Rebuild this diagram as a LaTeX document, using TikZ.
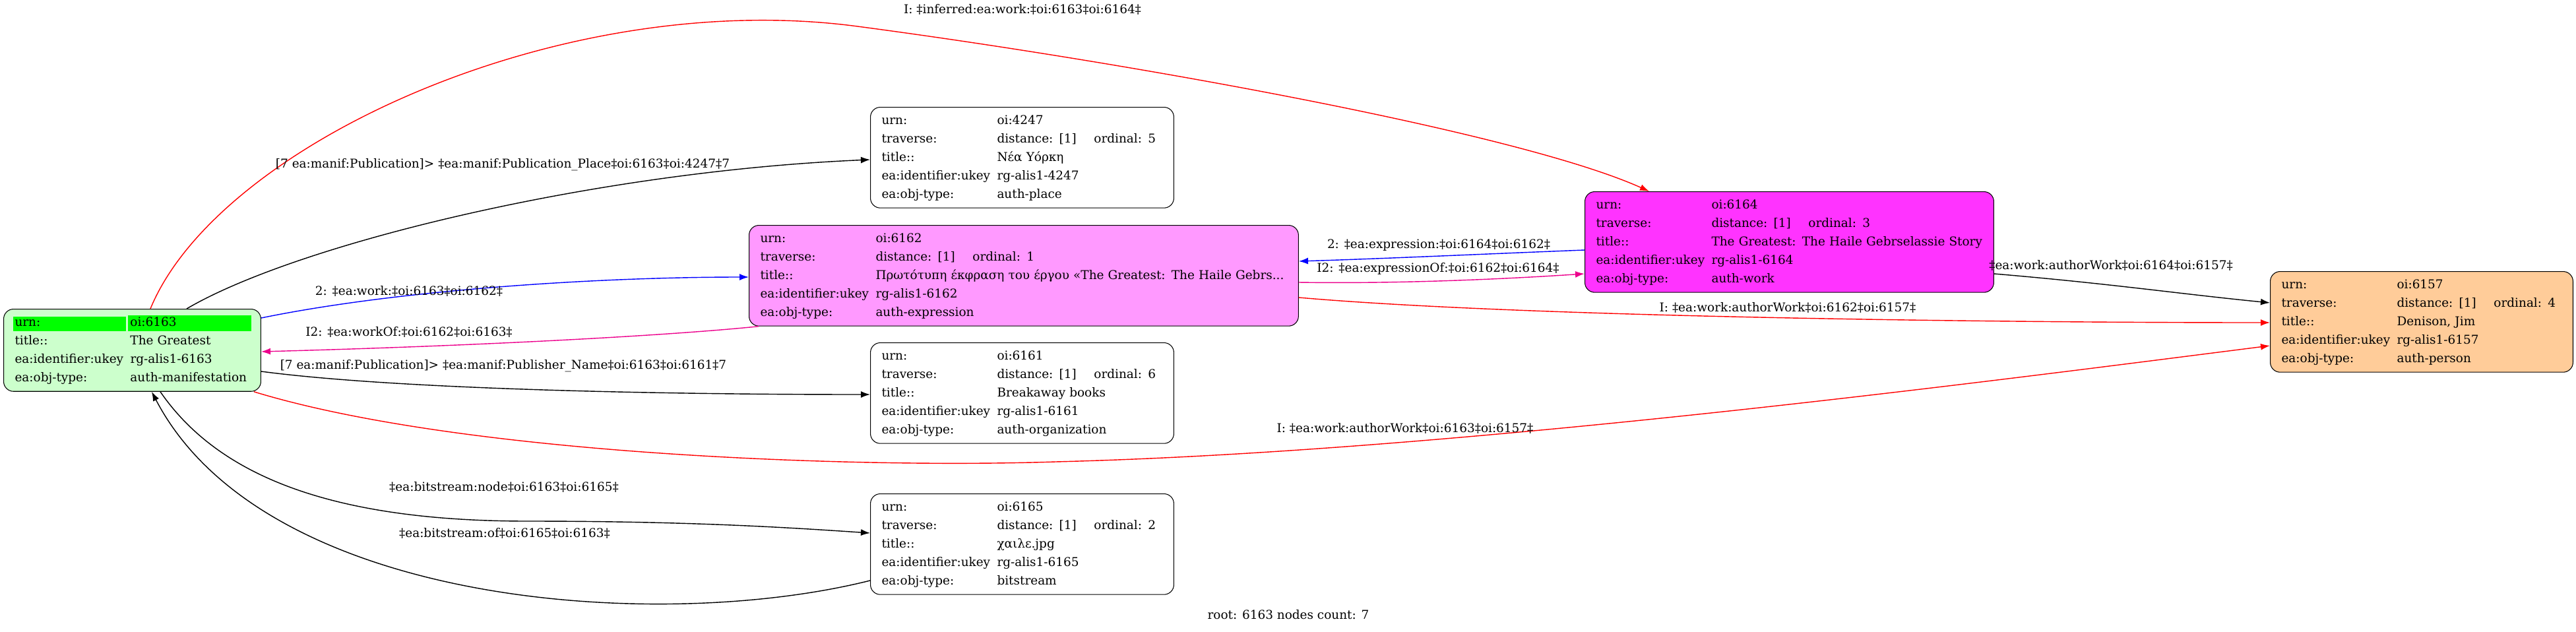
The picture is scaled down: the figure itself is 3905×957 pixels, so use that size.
\documentclass[tikz,border=0pt]{standalone}
\usepackage{fontspec}
\setmainfont{DejaVu Serif}
\usetikzlibrary{arrows.meta,calc}

\definecolor{mfgreen}{HTML}{CCFFCC}
\definecolor{hdrgreen}{HTML}{00FF00}
\definecolor{exppink}{HTML}{FF99FF}
\definecolor{workmag}{HTML}{FF33FF}
\definecolor{persorange}{HTML}{FFCC99}

\newcommand{\trav}[1]{\makebox[2.94cm][l]{distance: [1]}ordinal: #1}
\newcommand{\hdr}[2]{{\setlength{\fboxsep}{0.06cm}\hspace*{-0.06cm}\colorbox{hdrgreen}{\makebox[#1][l]{\rule[-0.08cm]{0pt}{0.32cm}#2}}}}

\begin{document}
\begin{tikzpicture}[x=0.02cm,y=-0.02cm,
    rec/.style={draw, line width=0.6pt, rounded corners=0.3cm, anchor=north west,
      inner xsep=0.34cm, inner ysep=0.13cm, text width=#1, align=left,
      font=\fontsize{10.5}{15.9}\selectfont},
    lbl/.style={anchor=base, inner sep=0pt, font=\fontsize{10.5}{12}\selectfont},
    link/.style={line width=0.8pt, -{Latex[length=0.28cm,width=0.2cm]}}]
    \useasboundingbox (0,0) rectangle (3905,957);

    \node[rec=7.12cm, fill=mfgreen] (n6163) at (5,468) {\begin{tabular}{@{}p{3.5cm}@{}l@{}}
        \hdr{3.32cm}{urn:} & \hdr{3.62cm}{oi:6163}\\
        title:: & The Greatest\\
        ea:identifier:ukey & rg-alis1-6163\\
        ea:obj-type: & auth-manifestation
      \end{tabular}};
    \node[rec=8.52cm] (n4247) at (1319,162) {\begin{tabular}{@{}p{3.5cm}@{}l@{}}
        urn: & oi:4247\\
        traverse: & \trav{5}\\
        title:: & Νέα Υόρκη\\
        ea:identifier:ukey & rg-alis1-4247\\
        ea:obj-type: & auth-place
      \end{tabular}};
    \node[rec=15.98cm, fill=exppink] (n6162) at (1135,341) {\begin{tabular}{@{}p{3.5cm}@{}l@{}}
        urn: & oi:6162\\
        traverse: & \trav{1}\\
        title:: & Πρωτότυπη έκφραση του έργου «The Greatest: The Haile Gebrs...\\
        ea:identifier:ukey & rg-alis1-6162\\
        ea:obj-type: & auth-expression
      \end{tabular}};
    \node[rec=11.72cm, fill=workmag] (n6164) at (2402,290) {\begin{tabular}{@{}p{3.5cm}@{}l@{}}
        urn: & oi:6164\\
        traverse: & \trav{3}\\
        title:: & The Greatest: The Haile Gebrselassie Story\\
        ea:identifier:ukey & rg-alis1-6164\\
        ea:obj-type: & auth-work
      \end{tabular}};
    \node[rec=8.5cm, fill=persorange] (n6157) at (3441,411) {\begin{tabular}{@{}p{3.5cm}@{}l@{}}
        urn: & oi:6157\\
        traverse: & \trav{4}\\
        title:: & Denison, Jim\\
        ea:identifier:ukey & rg-alis1-6157\\
        ea:obj-type: & auth-person
      \end{tabular}};
    \node[rec=8.52cm] (n6161) at (1319,519) {\begin{tabular}{@{}p{3.5cm}@{}l@{}}
        urn: & oi:6161\\
        traverse: & \trav{6}\\
        title:: & Breakaway books\\
        ea:identifier:ukey & rg-alis1-6161\\
        ea:obj-type: & auth-organization
      \end{tabular}};
    \node[rec=8.52cm] (n6165) at (1319,748) {\begin{tabular}{@{}p{3.5cm}@{}l@{}}
        urn: & oi:6165\\
        traverse: & \trav{2}\\
        title:: & χαιλε.jpg\\
        ea:identifier:ukey & rg-alis1-6165\\
        ea:obj-type: & bitstream
      \end{tabular}};

    \draw[link, red] ($(n6163.north west)+(223,0)$) .. controls (330,220) and (850,-20) .. (1300,40)
      .. controls (1700,93) and (2300,200) .. ($(n6164.north west)+(98,0)$);
    \draw[link] ($(n6163.north west)+(278,0)$) .. controls (450,370) and (900,260) .. ($(n4247.north west)+(0,80)$);
    \draw[link, blue] ($(n6163.north east)+(0,14)$) .. controls (600,440) and (900,420) .. ($(n6162.north west)+(0,79)$);
    \draw[link, magenta] ($(n6162.south west)+(15,0)$) .. controls (1000,510) and (700,525) .. ($(n6163.north east)+(0,65)$);
    \draw[link] ($(n6163.north east)+(0,95)$) .. controls (600,590) and (1000,598) .. ($(n6161.north west)+(0,79)$);
    \draw[link, red] ($(n6163.south east)+(-11,0)$) .. controls (700,690) and (1300,710) .. (1600,700)
      .. controls (2200,685) and (3000,580) .. ($(n6157.north west)+(0,113)$);
    \draw[link] ($(n6163.south west)+(238,0)$) .. controls (330,720) and (500,790) .. (800,790)
      .. controls (1050,790) and (1200,800) .. ($(n6165.north west)+(0,60)$);
    \draw[link] ($(n6165.north west)+(0,132)$) .. controls (1000,960) and (400,920) .. ($(n6163.south west)+(225,0)$);
    \draw[link, blue] ($(n6164.north west)+(0,89)$) .. controls (2250,385) and (2100,392) .. ($(n6162.north east)+(0,55)$);
    \draw[link, magenta] ($(n6162.north east)+(0,87)$) .. controls (2100,430) and (2250,425) .. ($(n6164.north west)+(0,125)$);
    \draw[link, red] ($(n6162.north east)+(0,110)$) .. controls (2300,480) and (3000,489) .. ($(n6157.north west)+(0,78)$);
    \draw[link] ($(n6164.north east)+(0,125)$) .. controls (3200,430) and (3300,445) .. ($(n6157.north west)+(0,48)$);

    \node[lbl] (l1) at (1550,20) {I: ‡inferred:ea:work:‡oi:6163‡oi:6164‡};
    \node[lbl] (l2) at (762,254) {[7 ea:manif:Publication]> ‡ea:manif:Publication\_Place‡oi:6163‡oi:4247‡7};
    \node[lbl] (l3) at (620,447) {2: ‡ea:work:‡oi:6163‡oi:6162‡};
    \node[lbl] (l4) at (620,509) {I2: ‡ea:workOf:‡oi:6162‡oi:6163‡};
    \node[lbl] (l5) at (763,559) {[7 ea:manif:Publication]> ‡ea:manif:Publisher\_Name‡oi:6163‡oi:6161‡7};
    \node[lbl] (l6) at (2130,655) {I: ‡ea:work:authorWork‡oi:6163‡oi:6157‡};
    \node[lbl] (l7) at (764,744) {‡ea:bitstream:node‡oi:6163‡oi:6165‡};
    \node[lbl] (l8) at (765,814) {‡ea:bitstream:of‡oi:6165‡oi:6163‡};
    \node[lbl] (l9) at (2181,376) {2: ‡ea:expression:‡oi:6164‡oi:6162‡};
    \node[lbl] (l10) at (2180,412) {I2: ‡ea:expressionOf:‡oi:6162‡oi:6164‡};
    \node[lbl] (l11) at (2710,472) {I: ‡ea:work:authorWork‡oi:6162‡oi:6157‡};
    \node[lbl] (l12) at (3200,408) {‡ea:work:authorWork‡oi:6164‡oi:6157‡};
    \node[lbl] (cap) at (1953,938) {root: 6163 nodes count: 7};
\end{tikzpicture}
\end{document}
